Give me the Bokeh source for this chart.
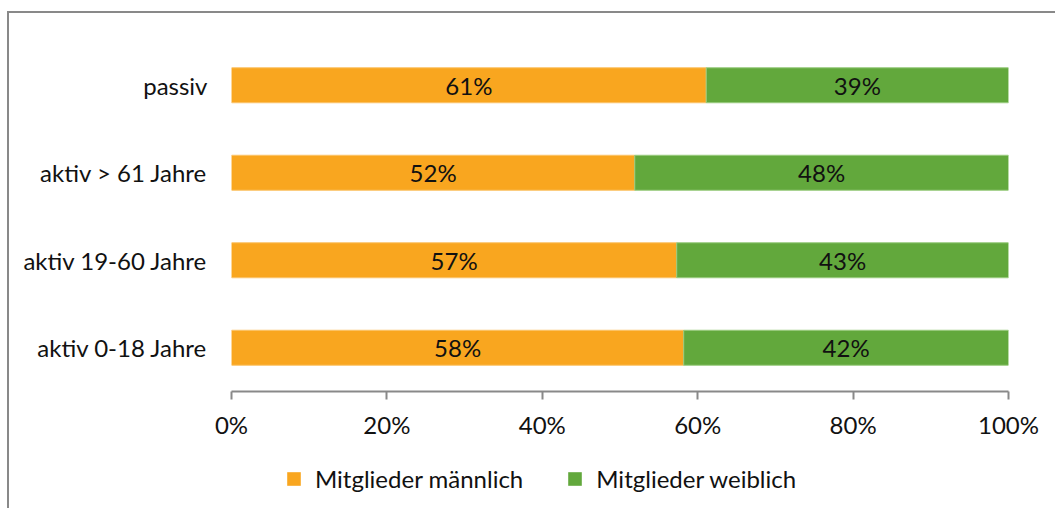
from bokeh.plotting import figure
from bokeh.layouts import column
from bokeh.models import (ColumnDataSource, FactorRange, Range1d, FixedTicker,
                          PrintfTickFormatter, Legend, LegendItem)
from bokeh.core.properties import value
from bokeh.embed import file_html
from bokeh.resources import INLINE

# ---- data ----
categories = ["aktiv 0-18 Jahre", "aktiv 19-60 Jahre", "aktiv > 61 Jahre", "passiv"]
maennlich = [58.2, 57.3, 51.9, 61.1]
weiblich = [41.8, 42.7, 48.1, 38.9]
series_labels = ["Mitglieder männlich", "Mitglieder weiblich"]
x_ticks = [0, 20, 40, 60, 80, 100]

ORANGE = "#F9A61F"
GREEN = "#62A83C"
FONT = "Lato"
FS = "24px"
TXT = "#111111"
GRAY = "#898989"

m_mid = [m / 2 for m in maennlich]
w_mid = [m + w / 2 for m, w in zip(maennlich, weiblich)]
m_txt = [f"{round(m)}%" for m in maennlich]
w_txt = [f"{round(w)}%" for w in weiblich]

source = ColumnDataSource(dict(cat=categories, m=maennlich, w=weiblich,
                               m_mid=m_mid, w_mid=w_mid, m_txt=m_txt, w_txt=w_txt))

W = 1046
p = figure(width=W, height=437, output_backend="svg", toolbar_location=None,
           y_range=FactorRange(factors=categories, range_padding=0),
           x_range=Range1d(0, 100),
           min_border_left=222, min_border_right=W - 999, min_border_top=28,
           min_border_bottom=59)
p.outline_line_color = None
p.xgrid.grid_line_color = None
p.ygrid.grid_line_color = None

rs = p.hbar_stack(["m", "w"], y="cat", height=0.4, source=source,
                  fill_color=[ORANGE, GREEN], line_color=["#FBC36A", "#9ACB7F"],
                  line_width=1)

p.text(x="m_mid", y="cat", text="m_txt", source=source, text_align="center",
       text_baseline="middle", text_font=value(FONT), text_font_size=FS,
       text_color=TXT)
p.text(x="w_mid", y="cat", text="w_txt", source=source, text_align="center",
       text_baseline="middle", text_font=value(FONT), text_font_size=FS,
       text_color=TXT)

xa = p.xaxis[0]
xa.ticker = FixedTicker(ticks=x_ticks)
xa.formatter = PrintfTickFormatter(format="%d%%")
xa.axis_line_color = GRAY
xa.axis_line_width = 2
xa.major_tick_line_color = GRAY
xa.major_tick_line_width = 2
xa.major_tick_in = 0
xa.major_tick_out = 8
xa.minor_tick_line_color = None
xa.major_label_standoff = 10
xa.major_label_text_font = FONT
xa.major_label_text_font_size = FS
xa.major_label_text_color = TXT

ya = p.yaxis[0]
ya.axis_line_color = None
ya.major_tick_line_color = None
ya.minor_tick_line_color = None
ya.major_tick_out = 0
ya.major_tick_in = 0
ya.major_label_standoff = 24
ya.major_label_text_font = FONT
ya.major_label_text_font_size = FS
ya.major_label_text_color = TXT

# legend strip below the chart (hidden renderers only feed the legend swatches)
p2 = figure(width=W, height=58, output_backend="svg", toolbar_location=None,
            x_axis_location=None, y_axis_location=None,
            x_range=Range1d(0, 100),
            y_range=FactorRange(factors=categories, range_padding=0),
            min_border=0, min_border_left=0, min_border_right=0,
            min_border_top=0, min_border_bottom=0)
p2.outline_line_color = None
p2.grid.visible = False
lrs = p2.hbar_stack(["m", "w"], y="cat", height=0.4, source=source,
                    fill_color=[ORANGE, GREEN], line_color=None)
for r in lrs:
    r.visible = False

legend = Legend(items=[LegendItem(label=series_labels[0], renderers=[lrs[0]]),
                       LegendItem(label=series_labels[1], renderers=[lrs[1]])],
                orientation="horizontal", location=(54, 15))
legend.border_line_color = None
legend.background_fill_alpha = 0
legend.inactive_fill_alpha = 0
legend.padding = 0
legend.margin = 0
legend.spacing = 43
legend.label_standoff = 13
legend.glyph_width = 17
legend.glyph_height = 17
legend.label_text_font = FONT
legend.label_text_font_size = FS
legend.label_text_color = TXT
p2.add_layout(legend)

layout = column(p, p2, spacing=0,
                styles={"margin-left": "7px", "margin-top": "11px",
                        "border-left": "2px solid #898989",
                        "border-top": "2px solid #898989"})

open("out.html", "w").write(file_html(layout, INLINE))
